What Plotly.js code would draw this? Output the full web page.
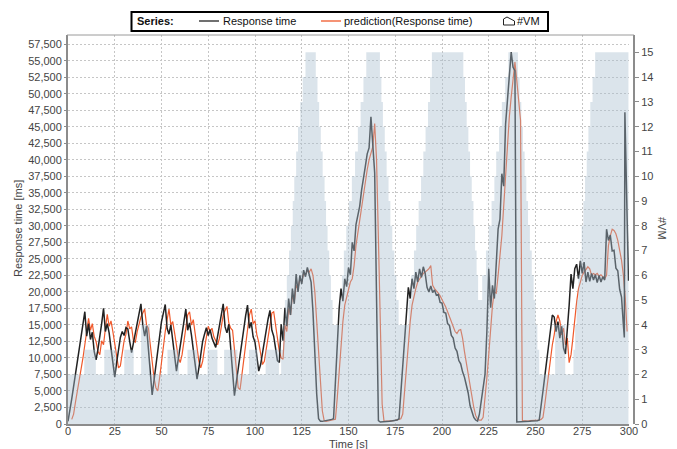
<!DOCTYPE html>
<html>
<head>
<meta charset="utf-8">
<script src="https://cdn.plot.ly/plotly-3.0.1.min.js"></script>
<style>
  html, body { margin: 0; padding: 0; background: #fff; }
  #chart { width: 677px; height: 449px; }
</style>
</head>
<body>
<div id="chart"></div>
<script>
// Measured response time [ms], one sample per second from t = 0 s
const responseTime = [
  400, 1900, 3800, 5700, 7600, 9500, 11300, 13200, 15000, 17000,
  13300, 15200, 12800, 13900, 11000, 9700, 11300, 13000, 15200, 17500,
  14000, 15200, 13800, 11500, 9200, 7100, 9300, 11300, 13100, 14000,
  13400, 14600, 14400, 12500, 10800, 12300, 13800, 15400, 16900, 18200,
  15000, 13300, 14800, 11000, 7500, 4400, 6600, 8800, 11000, 13300,
  15500, 16800, 18100, 14500, 13600, 15000, 12600, 10200, 8000, 9900,
  11700, 13600, 15500, 17400, 14200, 15300, 13500, 11300, 9000, 6800,
  8500, 10500, 12500, 13600, 14600, 13400, 14300, 13000, 12200, 11600,
  13300, 15000, 16600, 18200, 14700, 13800, 15100, 11800, 8000, 4300,
  6300, 8400, 10400, 12500, 14600, 16400, 18000, 14500, 15400, 13200,
  12400, 10200, 8000, 9000, 10800, 12500, 14200, 15900, 17200, 14200,
  13300, 11200, 9600, 9300, 15100, 12600, 17600, 14800, 19000, 16500,
  20500, 18200, 22700, 20000, 22500, 21200, 23300, 22300, 23700, 22600,
  21500, 17000, 10500, 4500, 800, 400, 400, 450, 500, 500,
  600, 700, 800, 7000, 12500, 17500, 20500, 18600, 22000, 20800,
  23700, 22600, 27500, 26200, 30200, 31500, 33000, 35400, 36900, 39000,
  40900, 41800, 46500, 42000, 38000, 19000, 500, 300, 300, 350,
  350, 400, 400, 450, 500, 500, 600, 800, 5000, 9000,
  13000, 17500, 20700, 19000, 22000, 20500, 23000, 21500, 23500, 22200,
  23800, 22800, 20700, 20000, 20900, 19900, 20300, 19500, 19600, 18400,
  18300, 16900, 16800, 15200, 14900, 13400, 13000, 11500, 11000, 9600,
  9100, 7900, 7100, 5900, 4700, 2800, 1700, 1000, 600, 450,
  1500, 3500, 5500, 7500, 14000, 23500, 17600, 21000, 19000, 25000,
  29500, 31000, 37900, 36000, 45400, 49000, 53000, 56300, 54000, 53500,
  300, 300, 300, 350, 350, 400, 400, 400, 450, 450,
  500, 500, 600, 2500, 5000, 7300, 9600, 11800, 14000, 16500,
  16200, 14000, 15500, 13000, 14800, 11500, 10600, 14000, 18000, 22700,
  20500, 23500, 24200, 22000, 24700, 22800, 24500, 21500, 23000, 21600,
  22800, 21800, 22600, 21400, 22500, 21500, 22300, 21800, 29500, 27800,
  28600, 26200, 26300, 23600, 23200, 20400, 19200, 15000
];
// Last burst of the measured series
const responseTailTime  = [297.5, 297.8, 299.7];
const responseTailValue = [13100, 47200, 21700];

// Predicted response time [ms], one sample per second from t = 2 s
const predictionStartTime = 2;
const prediction = [
  700, 1500, 3300, 5000, 6200, 8000, 10000, 12000,
  14500, 16000, 14200, 15200, 13300, 12500, 11000, 10500, 12600, 12000,
  14500, 16600, 14800, 15600, 14000, 12000, 10200, 8500, 8800, 10500,
  12600, 13600, 15600, 14400, 14700, 12600, 12400, 14000, 15200, 16200,
  16800, 17400, 15000, 14500, 12000, 9300, 7000, 5500, 5000, 7000,
  9500, 12000, 14000, 15800, 17400, 15000, 15500, 13800, 11800, 10000,
  9300, 10500, 12500, 14500, 16500, 17000, 15000, 15800, 13500, 11500,
  9500, 8500, 9500, 11500, 13500, 14800, 14000, 14500, 13200, 12500,
  12000, 13000, 15000, 16500, 17200, 17800, 15300, 14500, 14200, 11000,
  8000, 5500, 5200, 7500, 10000, 12500, 14500, 16500, 17400, 15200,
  15600, 13500, 12400, 10500, 9000, 9500, 11500, 13500, 15500, 16800,
  17000, 14800, 13000, 11000, 10000, 9800, 15000, 14000, 17500, 16500,
  19500, 18500, 21000, 20500, 22000, 21500, 22800, 22600, 23200, 23000,
  23500, 22500, 20000, 16000, 11000, 6500, 2000, 500, 400, 450,
  500, 550, 600, 700, 4000, 8000, 12000, 15500, 18000, 19200,
  20500, 21500, 22000, 24000, 27000, 29000, 30500, 32500, 35000, 37000,
  38500, 40000, 41000, 42000, 45500, 40000, 28000, 15000, 3000, 400,
  400, 450, 450, 500, 500, 550, 600, 700, 800, 1500,
  5000, 9000, 12500, 15500, 18000, 19500, 20500, 21500, 22000, 22500,
  22800, 23000, 23300, 23500, 24000, 21000, 20500, 20200, 19800, 19400,
  18900, 18400, 17700, 17000, 16300, 15600, 14800, 14000, 13700, 14200,
  14300, 13000, 11000, 9300, 7500, 5800, 4000, 2500, 1300, 700,
  600, 600, 1000, 3500, 7000, 10500, 14000, 18000, 20000, 19800,
  22500, 25500, 28500, 33000, 38000, 42000, 46500, 49500, 52500, 54800,
  52000, 49000, 46000, 500, 450, 450, 450, 500, 500, 500,
  500, 550, 600, 700, 1000, 3000, 5500, 8000, 10000, 12000,
  13500, 15500, 16500, 15600, 13500, 14500, 12000, 13000, 9300, 10500,
  13000, 16000, 18500, 20500, 21500, 22500, 23000, 23500, 23800, 23500,
  22500, 22800, 22600, 22800, 22400, 22600, 22300, 22000, 22500, 27000,
  28500, 29500, 29300, 28800, 27800, 26500, 24800, 22500, 19000, 14000
];

// Number of running VMs (step changes)
const vmTime = [
  0, 8.7, 14.9, 19.4, 25.6, 30.1, 35.1, 39.1, 43.8, 53.2, 59.4, 63.9, 69.2,
  74.6, 79.9, 83.5, 90.6, 96.8, 101.3, 105.7, 112.8,
  114, 115, 116, 117, 118.2, 119.2, 120.2, 121, 122, 123, 124.2, 125.5, 127,
  132.5, 133.4, 134.3, 135.2, 136.2, 137.2, 138, 138.8, 139.7, 140.6, 141.5,
  145.5, 146.5, 147.5, 148.8, 150.2, 151.8, 153.5, 155, 156.5, 158, 159.5,
  166.8, 167.6, 168.4, 169.4, 170.4, 171.4, 172.4, 173.4, 174.5, 175.6, 176.8,
  182.2, 183.5, 185, 186.2, 187.5, 188.8, 190, 191.2, 192.5, 193.6, 194.6,
  211.4, 212.3, 213.2, 214.1, 215, 215.9, 216.8, 217.7, 218.5, 219.3,
  221.5, 223.5, 225, 226.5, 228, 229, 230.5, 232, 233.8, 235.5,
  240.6, 241.5, 242.4, 243.3, 244.2, 245.1, 246, 247, 248, 249, 250, 251, 252,
  260.5, 265.9, 270.3,
  271.2, 272, 272.9, 273.8, 274.7, 275.6, 276.5, 277.4, 278.3, 279.3, 280.5, 281.9,
  299.7
];
const vmCount = [
  2, 3, 2, 3, 2, 3, 2, 4, 2, 3, 2, 3, 2,
  3, 2, 3, 2, 3, 2, 3, 2,
  3, 4, 5, 6, 7, 8, 9, 10, 11, 12, 13, 14, 15,
  14, 13, 12, 11, 10, 9, 8, 7, 6, 5, 4,
  5, 6, 7, 8, 9, 10, 11, 12, 13, 14, 15,
  14, 13, 12, 11, 10, 9, 8, 7, 6, 5, 4,
  5, 6, 7, 8, 9, 10, 11, 12, 13, 14, 15,
  14, 13, 12, 11, 10, 9, 8, 7, 6, 5,
  6, 7, 8, 9, 10, 11, 12, 13, 14, 15,
  14, 13, 12, 11, 10, 9, 8, 7, 6, 5, 4, 3, 2,
  4, 2, 3,
  4, 5, 6, 7, 8, 9, 10, 11, 12, 13, 14, 15,
  15
];

const timeTicks = [0, 25, 50, 75, 100, 125, 150, 175, 200, 225, 250, 275, 300];

const seriesNames = ['Response time', 'prediction(Response time)', '#VM'];
const colors = { response: '#222222', prediction: '#f0592b', vmFill: 'rgba(170,190,208,0.42)' };

const respX = responseTime.map((_, i) => i).concat(responseTailTime);
const respY = responseTime.concat(responseTailValue);
const predX = prediction.map((_, i) => i + predictionStartTime);

const traces = [
  {
    x: vmTime, y: vmCount, yaxis: 'y2', type: 'scatter', mode: 'lines',
    line: { shape: 'hv', width: 0, color: colors.vmFill },
    fill: 'tozeroy', fillcolor: colors.vmFill,
    name: seriesNames[2], showlegend: false, hoverinfo: 'skip'
  },
  {
    x: predX, y: prediction, type: 'scatter', mode: 'lines',
    line: { color: colors.prediction, width: 1.2 },
    name: seriesNames[1], showlegend: false
  },
  {
    x: respX, y: respY, type: 'scatter', mode: 'lines',
    line: { color: colors.response, width: 1.5 },
    name: seriesNames[0], showlegend: false
  }
];

// plot-area geometry in pixels
const W = 677, H = 449;
const M = { l: 68, r: 43, t: 35, b: 25 };
const paperW = W - M.l - M.r, paperH = H - M.t - M.b;
const px = x => (x - M.l) / paperW;
const py = y => (H - M.b - y) / paperH;

const tickFont = { family: 'Liberation Sans, Arial, sans-serif', size: 11, color: '#444' };
const gridStyle = { showgrid: true, gridcolor: '#c6c6c6', griddash: '2px,2px', gridwidth: 1 };

// legend drawn as a framed strip above the plot
const legendY = 21;
const shapes = [
  { type: 'rect', xref: 'paper', yref: 'paper', x0: px(131.5), x1: px(548), y0: py(12), y1: py(31),
    line: { color: '#000', width: 2 }, fillcolor: '#fff' },
  { type: 'line', xref: 'paper', yref: 'paper', x0: px(199), x1: px(219), y0: py(legendY), y1: py(legendY),
    line: { color: colors.response, width: 1.3 } },
  { type: 'line', xref: 'paper', yref: 'paper', x0: px(321), x1: px(341), y0: py(legendY), y1: py(legendY),
    line: { color: colors.prediction, width: 1.3 } },
  { type: 'path', xref: 'paper', yref: 'paper',
    path: `M ${px(503.5)},${py(25)} L ${px(503.5)},${py(19)} L ${px(507)},${py(17)} L ${px(514.5)},${py(21)} L ${px(514.5)},${py(25)} Z`,
    line: { color: '#222', width: 1 }, fillcolor: 'rgba(0,0,0,0)' },
  // thin top border of the plot frame
  { type: 'line', xref: 'paper', yref: 'paper', x0: px(67), x1: px(634), y0: 1, y1: 1,
    line: { color: '#9a9a9a', width: 1 } }
];

const legendFont = { family: 'Liberation Sans, Arial, sans-serif', size: 11, color: '#111' };
const annotations = [
  { text: '<b>Series:</b>', xref: 'paper', yref: 'paper', x: px(135), y: py(legendY), xanchor: 'left', yanchor: 'middle', showarrow: false, font: legendFont },
  { text: seriesNames[0], xref: 'paper', yref: 'paper', x: px(221), y: py(legendY), xanchor: 'left', yanchor: 'middle', showarrow: false, font: legendFont },
  { text: seriesNames[1], xref: 'paper', yref: 'paper', x: px(342), y: py(legendY), xanchor: 'left', yanchor: 'middle', showarrow: false, font: legendFont },
  { text: seriesNames[2], xref: 'paper', yref: 'paper', x: px(515), y: py(legendY), xanchor: 'left', yanchor: 'middle', showarrow: false, font: legendFont },
  // axis titles
  { text: 'Response time [ms]', xref: 'paper', yref: 'paper', x: px(18), y: py(229), textangle: -90,
    xanchor: 'center', yanchor: 'middle', showarrow: false, font: tickFont },
  { text: 'Time [s]', xref: 'paper', yref: 'paper', x: px(348), y: py(443.5),
    xanchor: 'center', yanchor: 'middle', showarrow: false, font: tickFont },
  { text: '#VM', xref: 'paper', yref: 'paper', x: px(662), y: py(228), textangle: 90,
    xanchor: 'center', yanchor: 'middle', showarrow: false, font: tickFont }
];

const layout = {
  width: W, height: H,
  margin: M,
  paper_bgcolor: '#fff', plot_bgcolor: '#fff',
  font: tickFont,
  showlegend: false,
  xaxis: Object.assign({
    domain: [0, (629 - M.l) / paperW],
    range: [0, 300], tickvals: timeTicks, tickfont: tickFont,
    showline: true, linecolor: '#8c8c8c', linewidth: 2,
    ticks: '', ticklabelstandoff: -4,
    zeroline: false, fixedrange: true
  }, gridStyle),
  yaxis: Object.assign({
    range: [0, 58900], dtick: 2500, tick0: 0, tickformat: ',d', tickfont: tickFont,
    showline: true, linecolor: '#8c8c8c', linewidth: 2,
    ticks: 'outside', ticklen: 2, tickcolor: '#8c8c8c',
    zeroline: false, fixedrange: true
  }, gridStyle),
  yaxis2: {
    overlaying: 'y', side: 'right', anchor: 'free', position: 1,
    range: [0, 15.7], dtick: 1, tick0: 0, tickfont: tickFont,
    showgrid: false, zeroline: false,
    showline: true, linecolor: '#8c8c8c', linewidth: 2,
    ticks: 'outside', ticklen: 4, tickcolor: '#8c8c8c', fixedrange: true
  },
  shapes: shapes,
  annotations: annotations
};

Plotly.newPlot('chart', traces, layout, { displayModeBar: false, staticPlot: true });
</script>
</body>
</html>
